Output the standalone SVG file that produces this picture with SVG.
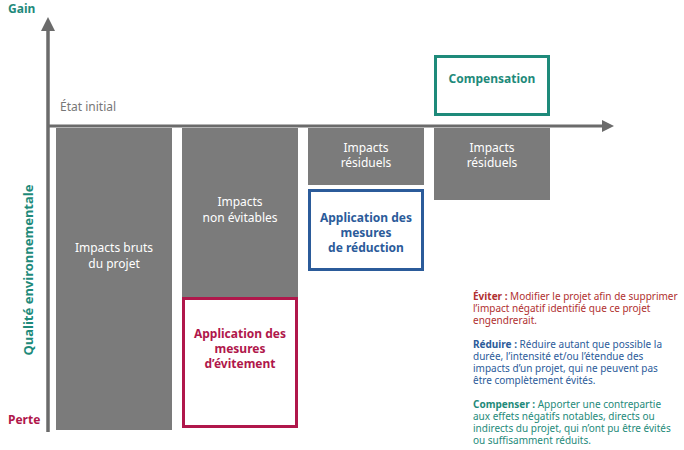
<svg xmlns="http://www.w3.org/2000/svg" width="684" height="450" viewBox="0 0 684 450">
<style>
text{font-family:"Noto Sans","Open Sans",sans-serif;}
.bar{fill:#7b7b7b;}
.w{fill:#fff;font-size:12px;text-anchor:middle;}
.bl{font-size:12px;font-weight:bold;text-anchor:middle;}
.d{font-size:10px;}
</style>
<defs><marker id="ah" markerWidth="4" markerHeight="4" refX="2" refY="2" orient="auto" markerUnits="strokeWidth"><path d="M0,0L4,2L0,4z" fill="#6b6b6b"/></marker></defs>
<rect width="684" height="450" fill="#fff"/>
<g id="connectors" stroke="#6b6b6b" stroke-width="3.5">
<line x1="48" y1="432" x2="48" y2="24" marker-end="url(#ah)"/>
<line x1="48" y1="126" x2="608" y2="126" stroke-width="3" marker-end="url(#ah)"/>
</g>
<text x="8" y="13" font-size="12" font-weight="bold" fill="#1e8a7a">Gain</text>
<text x="8" y="424" font-size="12" font-weight="bold" fill="#b0174b">Perte</text>
<text transform="translate(33,270) rotate(-90)" font-size="13" font-weight="bold" fill="#1e8a7a" text-anchor="middle">Qualité environnementale</text>
<text x="60" y="111" font-size="12" fill="#777">État initial</text>
<g id="bar1"><rect class="bar" x="56" y="128" width="116" height="302"/><text class="w" x="114" y="252">Impacts bruts</text><text class="w" x="114" y="268">du projet</text></g>
<g id="bar2"><rect class="bar" x="182" y="128" width="116" height="169"/><text class="w" x="240" y="206">Impacts</text><text class="w" x="240" y="222">non évitables</text></g>
<g id="evitement"><rect x="183.5" y="298.5" width="113" height="128" fill="#fff" stroke="#b0174b" stroke-width="3"/><text class="bl" x="240" y="338" fill="#b0174b">Application des</text><text class="bl" x="240" y="353" fill="#b0174b">mesures</text><text class="bl" x="240" y="368" fill="#b0174b">d’évitement</text></g>
<g id="bar3"><rect class="bar" x="308" y="128" width="116" height="57"/><text class="w" x="366" y="152">Impacts</text><text class="w" x="366" y="167">résiduels</text></g>
<g id="reduction"><rect x="309.5" y="190.5" width="113" height="79" fill="#fff" stroke="#2b5b9a" stroke-width="3"/><text class="bl" x="366" y="222" fill="#2b5b9a">Application des</text><text class="bl" x="366" y="237" fill="#2b5b9a">mesures</text><text class="bl" x="366" y="252" fill="#2b5b9a">de réduction</text></g>
<g id="bar4"><rect class="bar" x="434" y="128" width="116" height="72"/><text class="w" x="492" y="152">Impacts</text><text class="w" x="492" y="167">résiduels</text></g>
<g id="compensation"><rect x="435.5" y="56.5" width="113" height="58" fill="#fff" stroke="#1e8a7a" stroke-width="3"/><text class="bl" x="492" y="83" fill="#1e8a7a">Compensation</text></g>
<g id="legend" class="d">
<text x="473" y="300" fill="#b03030"><tspan font-weight="bold">Éviter :</tspan> Modifier le projet afin de supprimer</text>
<text x="473" y="312" fill="#b03030">l’impact négatif identifié que ce projet</text>
<text x="473" y="324" fill="#b03030">engendrerait.</text>
<text x="473" y="348" fill="#2b5b9a"><tspan font-weight="bold">Réduire :</tspan> Réduire autant que possible la</text>
<text x="473" y="360" fill="#2b5b9a">durée, l’intensité et/ou l’étendue des</text>
<text x="473" y="372" fill="#2b5b9a">impacts d’un projet, qui ne peuvent pas</text>
<text x="473" y="384" fill="#2b5b9a">être complètement évités.</text>
<text x="473" y="408" fill="#1e8a7a"><tspan font-weight="bold">Compenser :</tspan> Apporter une contrepartie</text>
<text x="473" y="420" fill="#1e8a7a">aux effets négatifs notables, directs ou</text>
<text x="473" y="432" fill="#1e8a7a">indirects du projet, qui n’ont pu être évités</text>
<text x="473" y="444" fill="#1e8a7a">ou suffisamment réduits.</text>
</g>
</svg>
